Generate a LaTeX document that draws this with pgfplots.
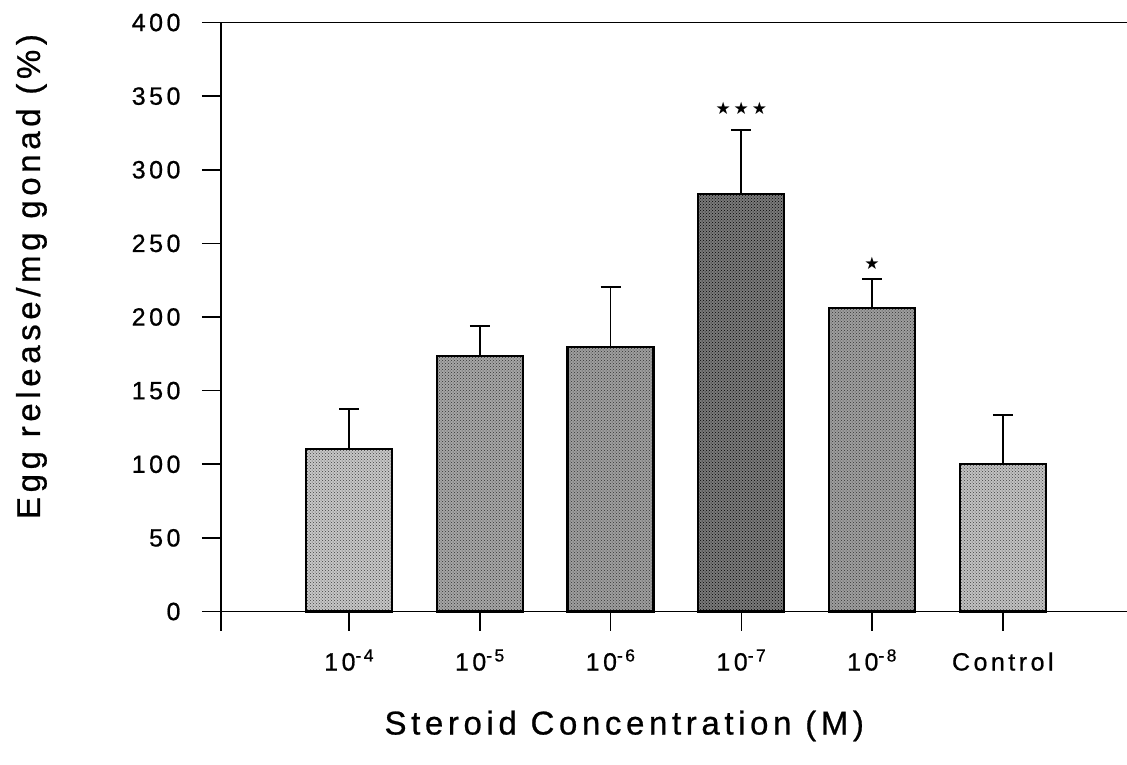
\documentclass[border=0pt]{standalone}
\usepackage{fontspec}
\setmainfont{Liberation Sans}[LetterSpace=14, FakeBold=0.7]
\newfontfamily\sym{DejaVu Sans}
\usepackage{pgfplots}
\pgfplotsset{compat=1.18}
\usetikzlibrary{calc,patterns}
\begin{document}
\begin{tikzpicture}
\begin{axis}[
  scale only axis, width=906pt, height=589pt,
  xmin=0.02, xmax=6.95, ymin=0, ymax=400,
  axis x line=bottom, axis y line=left,
  axis line style={-, line width=1.6pt},
  clip=false,
  ybar, bar width=86pt,
  ytick={0,50,...,400},
  xtick={0.02,1,2,3,4,5,6},
  xticklabels={,10\textsuperscript{-4},10\textsuperscript{-5},10\textsuperscript{-6},10\textsuperscript{-7},10\textsuperscript{-8},Control},
  tick align=outside, major tick length=19pt,
  tick style={line width=1.6pt, black},
  /pgf/number format/assume math mode=true,
  tick label style={font=\fontsize{25}{29}\selectfont},
  yticklabel style={anchor=east, xshift=-18pt},
  xticklabel style={anchor=base, yshift=-40pt},
  every axis plot/.append style={draw=black, line width=2.2pt, bar shift=0pt,
    error bars/y dir=plus, error bars/y explicit, error bars/error mark=|,
    error bars/error bar style={line width=1.8pt, black},
    error bars/error mark options={line width=1.8pt, mark size=10pt, black}},
]
\coordinate (O) at (rel axis cs:0,0);
\draw[line width=1.6pt] (rel axis cs:0,1) -- (rel axis cs:1,1);
\addplot[fill=black!22, postaction={pattern=crosshatch dots, pattern color=black!75}] coordinates {(1,110.5) +- (0,27.0)};
\addplot[fill=black!35, postaction={pattern=crosshatch dots, pattern color=black!80}] coordinates {(2,173.5) +- (0,20.5)};
\addplot[fill=black!38, postaction={pattern=crosshatch dots, pattern color=black!80}] coordinates {(3,179.4) +- (0,41.0)};
\addplot[fill=black!52, postaction={pattern=crosshatch dots, pattern color=black}] coordinates {(4,283.3) +- (0,43.5)};
\addplot[fill=black!38, postaction={pattern=crosshatch dots, pattern color=black!80}] coordinates {(5,206.1) +- (0,19.7)};
\addplot[fill=black!24, postaction={pattern=crosshatch dots, pattern color=black!75}] coordinates {(6,100.2) +- (0,33.5)};
\node[font=\sym\fontsize{17}{20}\selectfont, inner sep=0pt] at (axis cs:4,342) {★\,★\,★};
\node[font=\sym\fontsize{17}{20}\selectfont, inner sep=0pt] at (axis cs:5,236.7) {★};
\end{axis}
\node[rotate=90, anchor=base, font=\fontsize{33}{38}\selectfont] at ($(O)+(-181pt,335pt)$) {Egg release/mg gonad (\%)};
\node[anchor=base west, font=\fontsize{33}{38}\selectfont] at ($(O)+(160pt,-123pt)$) {Steroid Concentration (M)};
\pgfresetboundingbox
\useasboundingbox (O) ++(-221pt,-152.5pt) rectangle ++(1127pt,764pt);
\end{tikzpicture}
\end{document}
